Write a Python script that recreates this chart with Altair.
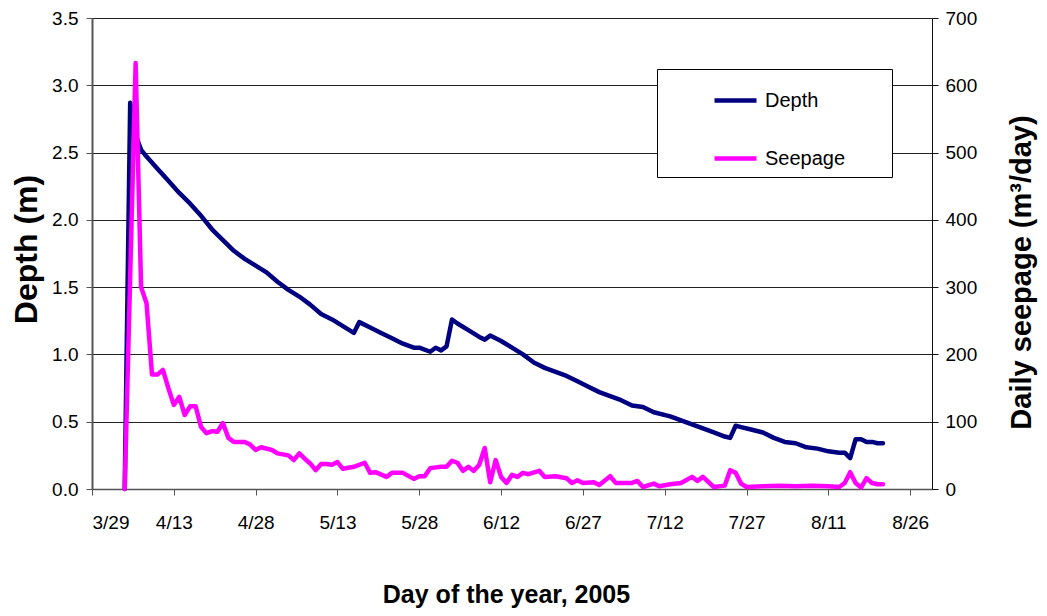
import altair as alt
import pandas as pd

FONT = "Liberation Sans"

# ---- data ----
depth_dates = [
    "2005-04-04", "2005-04-05", "2005-04-06", "2005-04-07", "2005-04-08", "2005-04-10",
    "2005-04-12", "2005-04-14", "2005-04-16", "2005-04-18", "2005-04-20", "2005-04-22",
    "2005-04-24", "2005-04-26", "2005-04-28", "2005-04-30", "2005-05-02", "2005-05-04",
    "2005-05-06", "2005-05-08", "2005-05-10", "2005-05-12", "2005-05-14", "2005-05-16",
    "2005-05-17", "2005-05-19", "2005-05-21", "2005-05-23", "2005-05-25", "2005-05-27",
    "2005-05-28", "2005-05-30", "2005-05-31", "2005-06-01", "2005-06-02", "2005-06-03",
    "2005-06-04", "2005-06-06", "2005-06-08", "2005-06-09", "2005-06-10", "2005-06-12",
    "2005-06-14", "2005-06-16", "2005-06-18", "2005-06-20", "2005-06-22", "2005-06-24",
    "2005-06-26", "2005-06-28", "2005-06-30", "2005-07-02", "2005-07-04", "2005-07-06",
    "2005-07-08", "2005-07-10", "2005-07-13", "2005-07-15", "2005-07-17", "2005-07-19",
    "2005-07-21", "2005-07-23", "2005-07-24", "2005-07-25", "2005-07-26", "2005-07-28",
    "2005-07-30", "2005-08-01", "2005-08-03", "2005-08-05", "2005-08-07", "2005-08-09",
    "2005-08-11", "2005-08-13", "2005-08-14", "2005-08-15", "2005-08-16", "2005-08-17",
    "2005-08-18", "2005-08-19", "2005-08-20", "2005-08-21",
]
depth_values = [
    0.0, 2.87, 2.63, 2.52, 2.47, 2.38,
    2.29, 2.20, 2.12, 2.03, 1.93, 1.85,
    1.77, 1.71, 1.66, 1.61, 1.54, 1.48,
    1.43, 1.37, 1.30, 1.26, 1.21, 1.16,
    1.24, 1.20, 1.16, 1.12, 1.08, 1.05,
    1.05, 1.02, 1.05, 1.03, 1.06, 1.26,
    1.23, 1.18, 1.13, 1.11, 1.14, 1.10,
    1.05, 1.00, 0.94, 0.90, 0.87, 0.84,
    0.80, 0.76, 0.72, 0.69, 0.66, 0.62,
    0.61, 0.57, 0.54, 0.51, 0.48, 0.45,
    0.42, 0.39, 0.38, 0.47, 0.46, 0.44,
    0.42, 0.38, 0.35, 0.34, 0.31, 0.30,
    0.28, 0.27, 0.27, 0.23, 0.37, 0.37,
    0.35, 0.35, 0.34, 0.34,
]

seep_dates = [
    "2005-04-04", "2005-04-06", "2005-04-07", "2005-04-08", "2005-04-09", "2005-04-10",
    "2005-04-11", "2005-04-12", "2005-04-13", "2005-04-14", "2005-04-15", "2005-04-16",
    "2005-04-17", "2005-04-18", "2005-04-19", "2005-04-20", "2005-04-21", "2005-04-22",
    "2005-04-23", "2005-04-24", "2005-04-26", "2005-04-27", "2005-04-28", "2005-04-29",
    "2005-05-01", "2005-05-02", "2005-05-04", "2005-05-05", "2005-05-06", "2005-05-07",
    "2005-05-08", "2005-05-09", "2005-05-10", "2005-05-11", "2005-05-12", "2005-05-13",
    "2005-05-14", "2005-05-16", "2005-05-18", "2005-05-19", "2005-05-20", "2005-05-22",
    "2005-05-23", "2005-05-25", "2005-05-27", "2005-05-28", "2005-05-29", "2005-05-30",
    "2005-06-01", "2005-06-02", "2005-06-03", "2005-06-04", "2005-06-05", "2005-06-06",
    "2005-06-07", "2005-06-08", "2005-06-09", "2005-06-10", "2005-06-11", "2005-06-12",
    "2005-06-13", "2005-06-14", "2005-06-15", "2005-06-16", "2005-06-17", "2005-06-19",
    "2005-06-20", "2005-06-22", "2005-06-24", "2005-06-25", "2005-06-26", "2005-06-27",
    "2005-06-29", "2005-06-30", "2005-07-02", "2005-07-03", "2005-07-06", "2005-07-07",
    "2005-07-08", "2005-07-10", "2005-07-11", "2005-07-13", "2005-07-15", "2005-07-17",
    "2005-07-18", "2005-07-19", "2005-07-21", "2005-07-23", "2005-07-24", "2005-07-25",
    "2005-07-26", "2005-07-27", "2005-07-30", "2005-08-02", "2005-08-05", "2005-08-08",
    "2005-08-11", "2005-08-13", "2005-08-14", "2005-08-15", "2005-08-16", "2005-08-17",
    "2005-08-18", "2005-08-19", "2005-08-20", "2005-08-21",
]
seep_values = [
    0, 633, 300, 276, 170, 170,
    177, 150, 125, 137, 110, 123,
    123, 92, 83, 86, 85, 98,
    76, 70, 70, 66, 58, 62,
    58, 53, 50, 43, 53, 45,
    38, 28, 37, 37, 36, 40,
    30, 33, 39, 24, 25, 18,
    24, 24, 15, 19, 19, 31,
    33, 33, 42, 39, 27, 33,
    27, 36, 61, 10, 43, 18,
    9, 21, 18, 24, 22, 27,
    18, 19, 16, 9, 13, 9,
    10, 6, 19, 9, 9, 12,
    3, 8, 4, 7, 9, 18,
    12, 18, 3, 5, 28, 24,
    8, 3, 4, 5, 4, 5,
    4, 3, 9, 25, 9, 2,
    16, 9, 7, 7,
]

series_names = ["Depth", "Seepage"]
series_colors = ["#000080", "#FF00FF"]

x_tick_days = [(3, 29), (4, 13), (4, 28), (5, 13), (5, 28), (6, 12),
               (6, 27), (7, 12), (7, 27), (8, 11), (8, 26)]
x_domain_days = [(3, 29), (8, 30)]
depth_ticks = [0, 0.5, 1.0, 1.5, 2.0, 2.5, 3.0, 3.5]
seep_ticks = [0, 100, 200, 300, 400, 500, 600, 700]

df_depth = pd.DataFrame({"date": depth_dates, "value": depth_values, "series": series_names[0]})
df_seep = pd.DataFrame({"date": seep_dates, "value": seep_values, "series": series_names[1]})


def dt(m, d):
    return alt.DateTime(year=2005, month=m, date=d, utc=True)


x_enc = alt.X(
    "date:T",
    scale=alt.Scale(type="utc", domain=[dt(*x_domain_days[0]), dt(*x_domain_days[1])]),
    axis=alt.Axis(
        values=[dt(m, d) for m, d in x_tick_days],
        labelExpr="utcFormat(datum.value, '%-m/%-d')",
        labelOverlap=False,
        title="Day of the year, 2005",
        titleFontSize=25,
        titleFontWeight="bold",
        titleX=414,
        titleY=113,
        titleBaseline="alphabetic",
        labelFontSize=19,
        labelPadding=18,
        tickSize=6,
        domainColor="#555555",
        domainWidth=1.5,
        tickColor="#555555",
        grid=False,
    ),
)

color_enc = alt.Color(
    "series:N",
    scale=alt.Scale(domain=series_names, range=series_colors),
    legend=alt.Legend(
        title=None,
        orient="none",
        direction="vertical",
        legendX=565,
        legendY=51,
        fillColor="white",
        strokeColor="black",
        padding=8,
        symbolType="stroke",
        symbolSize=1764,
        symbolStrokeWidth=4.5,
        labelFont=FONT,
        labelFontSize=20,
        labelColor="black",
        rowPadding=24,
        symbolOffset=47,
        labelOffset=6,
        labelExpr="datum.label + '\u00a0\u00a0\u00a0\u00a0\u00a0\u00a0\u00a0\u200b'",
    ),
)

depth = alt.Chart(df_depth).mark_line(strokeWidth=4.5, strokeJoin="round", strokeCap="round").encode(
    x=x_enc,
    y=alt.Y(
        "value:Q",
        scale=alt.Scale(domain=[0, 3.5], nice=False, zero=True),
        axis=alt.Axis(
            orient="left",
            values=depth_ticks,
            format=".1f",
            title="Depth (m)",
            titleFontSize=32,
            titleFontWeight="bold",
            titleAngle=270,
            titleX=-66,
            titleY=231,
            titleBaseline="middle",
            titleAlign="center",
            labelFontSize=19,
            labelPadding=8,
            tickSize=6,
            domainColor="#555555",
            domainWidth=2,
            tickColor="#555555",
            grid=True,
            gridColor="#222222",
            gridWidth=1,
        ),
    ),
    color=color_enc,
)

seep = alt.Chart(df_seep).mark_line(strokeWidth=4.5, strokeJoin="round", strokeCap="round").encode(
    x=x_enc,
    y=alt.Y(
        "value:Q",
        scale=alt.Scale(domain=[0, 700], nice=False, zero=True),
        axis=alt.Axis(
            orient="right",
            values=seep_ticks,
            format="d",
            title="Daily seepage (m³/day)",
            titleFontSize=29,
            titleFontWeight="bold",
            titleAngle=270,
            titleX=89,
            titleY=254,
            titleBaseline="middle",
            titleAlign="center",
            labelFontSize=19,
            labelPadding=7,
            tickSize=6,
            domainColor="#111111",
            domainWidth=1,
            tickColor="#111111",
            grid=False,
        ),
    ),
    color=color_enc,
)

chart = (
    alt.layer(depth, seep)
    .resolve_scale(y="independent")
    .properties(
        width=840,
        height=471,
        autosize="none",
        padding={"left": 84, "top": 10, "right": 107, "bottom": 119},
        background="white",
    )
    .configure_view(stroke=None)
    .configure_axis(labelFont=FONT, titleFont=FONT, labelColor="black", titleColor="black")
)

chart.save("out.html", embed_options={"renderer": "svg", "actions": False})
